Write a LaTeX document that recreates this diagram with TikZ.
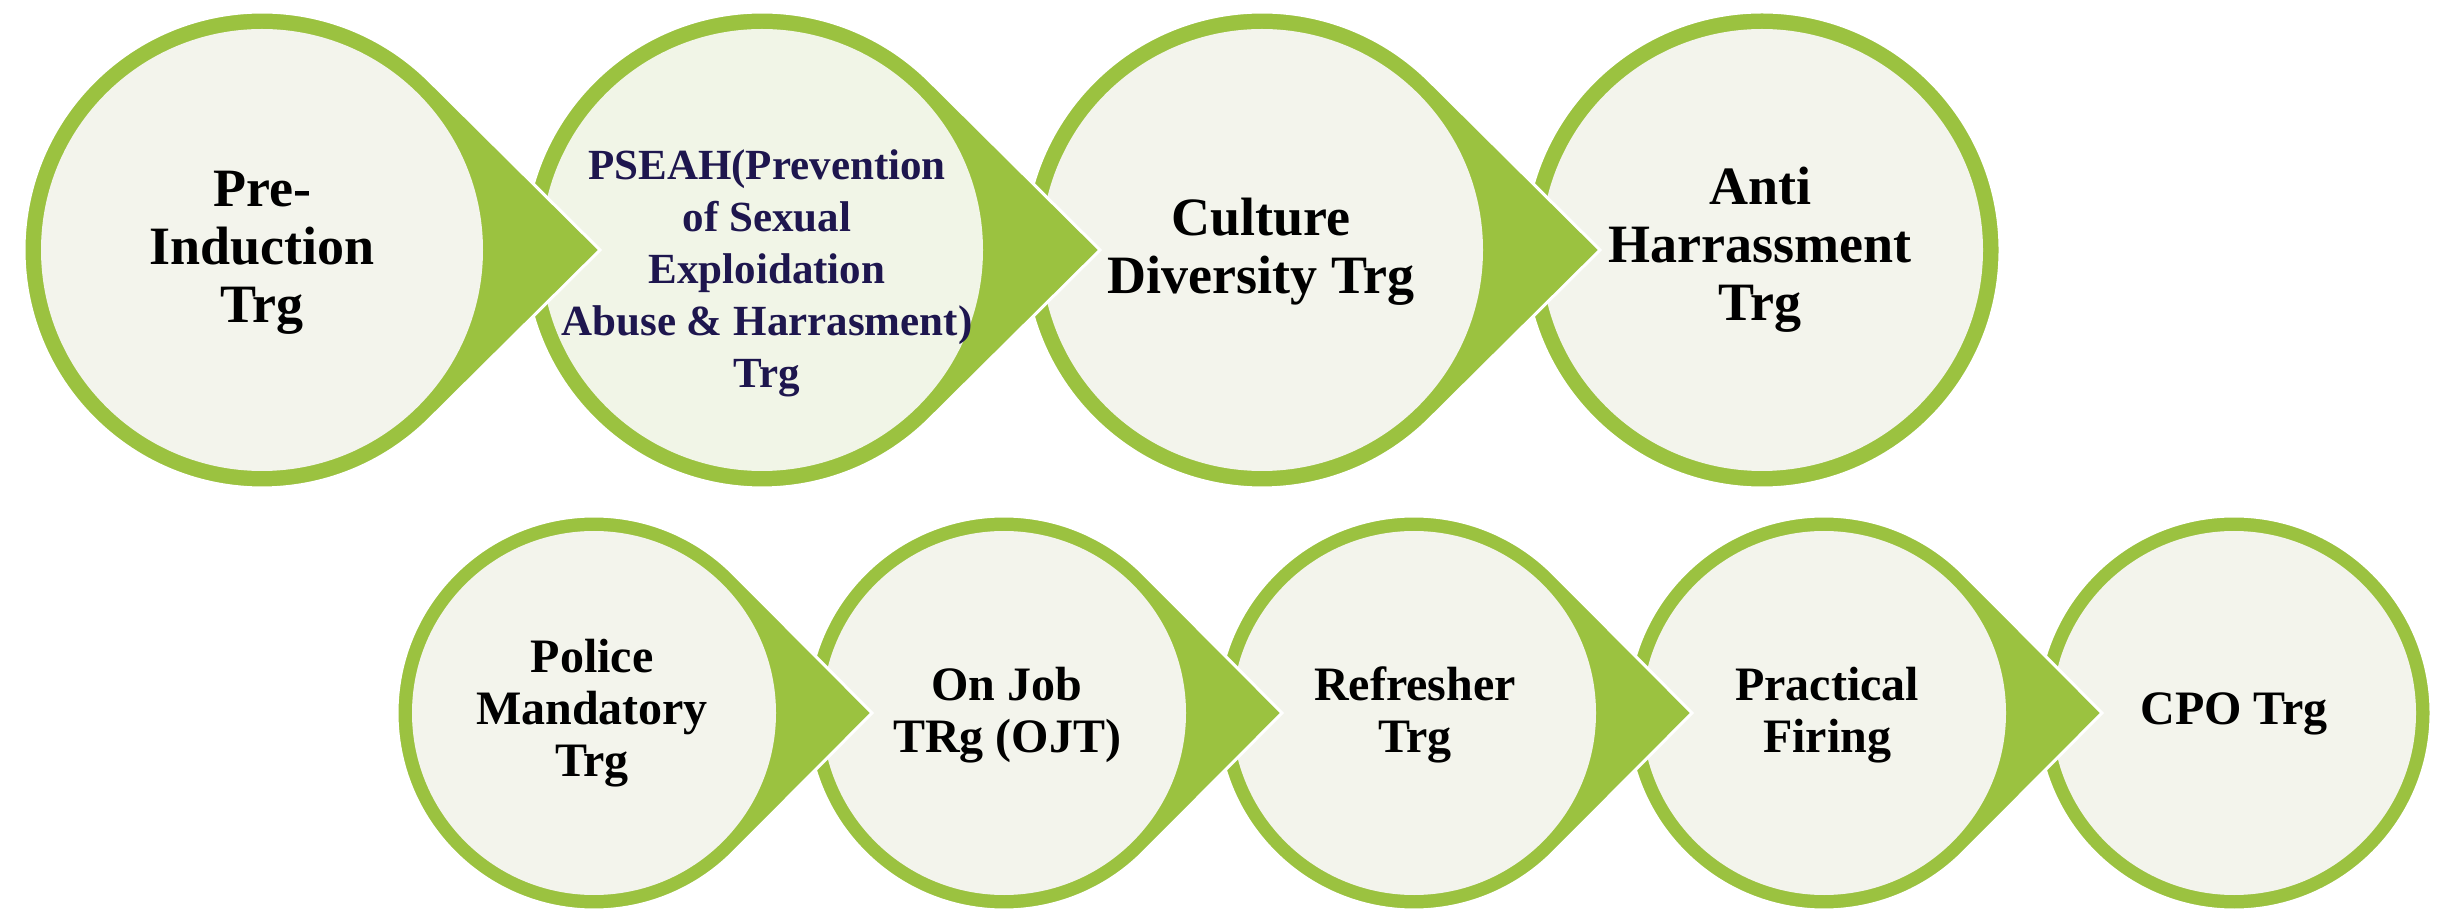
\documentclass[tikz,border=0pt]{standalone}
\usepackage{fontspec}
\setmainfont{Liberation Serif}
\usetikzlibrary{calc}
\definecolor{ringgreen}{RGB}{155,194,64}
\definecolor{cream}{RGB}{243,244,236}
\definecolor{creamgreen}{RGB}{241,245,231}
\definecolor{navy}{RGB}{30,22,78}
\tikzset{
  leaf/.style={fill=ringgreen, draw=white, line width=3pt, line join=miter},
  core/.style={circle, fill=cream, draw=none, inner sep=0pt},
  bigcore/.style={core, minimum size=442pt},
  smallcore/.style={core, minimum size=364pt},
  bigtxt/.style={align=center, inner sep=0pt, font=\fontsize{54}{58}\selectfont\bfseries},
  smalltxt/.style={align=center, inner sep=0pt, font=\fontsize{48}{52}\selectfont\bfseries},
  pseahtxt/.style={align=center, inner sep=0pt, text=navy, font=\fontsize{43}{52}\selectfont\bfseries},
}
\begin{document}
\begin{tikzpicture}[x=1pt,y=1pt]
\useasboundingbox (0,0) rectangle (2444,911);
% ---------- top row centres ----------
\coordinate (c1) at (262,661);
\coordinate (c2) at (762,661);
\coordinate (c3) at (1262,661);
\coordinate (c4) at (1762,661);
% ---------- bottom row centres ----------
\coordinate (c5) at (594,198);
\coordinate (c6) at (1004,198);
\coordinate (c7) at (1414,198);
\coordinate (c8) at (1824,198);
\coordinate (c9) at (2234,198);
% tips of the arrows
\coordinate (p1) at ($(c1)+(338,0)$);
\coordinate (p2) at ($(c2)+(338,0)$);
\coordinate (p3) at ($(c3)+(338,0)$);
\coordinate (p5) at ($(c5)+(278,0)$);
\coordinate (p6) at ($(c6)+(278,0)$);
\coordinate (p7) at ($(c7)+(278,0)$);
\coordinate (p8) at ($(c8)+(278,0)$);

% ---------- top row, drawn right to left ----------
\path[leaf] (c4) circle[radius=238];
\node[bigcore] (n4) at (c4) {};
\path[leaf] (p3) -- ($(c3)+(45.3:238)$) arc[start angle=45.3, end angle=314.7, radius=238] -- cycle;
\node[bigcore] (n3) at (c3) {};
\path[leaf] (p2) -- ($(c2)+(45.3:238)$) arc[start angle=45.3, end angle=314.7, radius=238] -- cycle;
\node[bigcore, fill=creamgreen] (n2) at (c2) {};
\path[leaf] (p1) -- ($(c1)+(45.3:238)$) arc[start angle=45.3, end angle=314.7, radius=238] -- cycle;
\node[bigcore] (n1) at (c1) {};

% ---------- bottom row, drawn right to left ----------
\path[leaf] (c9) circle[radius=197];
\node[smallcore] (n9) at (c9) {};
\path[leaf] (p8) -- ($(c8)+(45.2:197)$) arc[start angle=45.2, end angle=314.8, radius=197] -- cycle;
\node[smallcore] (n8) at (c8) {};
\path[leaf] (p7) -- ($(c7)+(45.2:197)$) arc[start angle=45.2, end angle=314.8, radius=197] -- cycle;
\node[smallcore] (n7) at (c7) {};
\path[leaf] (p6) -- ($(c6)+(45.2:197)$) arc[start angle=45.2, end angle=314.8, radius=197] -- cycle;
\node[smallcore] (n6) at (c6) {};
\path[leaf] (p5) -- ($(c5)+(45.2:197)$) arc[start angle=45.2, end angle=314.8, radius=197] -- cycle;
\node[smallcore] (n5) at (c5) {};

% ---------- texts ----------
\node[bigtxt] (t1) at (262,658) {Pre-\\Induction\\Trg};
\node[pseahtxt] (t2) at (767,637.5) {PSEAH(Prevention\\of Sexual\\Exploidation\\Abuse \& Harrasment)\\Trg};
\node[bigtxt] (t3) at (1261,659.5) {Culture\\Diversity Trg};
\node[bigtxt] (t4) at (1760,661) {Anti\\Harrassment\\Trg};
\node[smalltxt] (t5) at (592,198) {Police\\Mandatory\\Trg};
\node[smalltxt] (t6) at (1007,195.5) {On Job\\TRg (OJT)};
\node[smalltxt] (t7) at (1415,196.5) {Refresher\\Trg};
\node[smalltxt] (t8) at (1827,196.3) {Practical\\Firing};
\node[smalltxt] (t9) at (2234,197.5) {CPO Trg};
\end{tikzpicture}
\end{document}
